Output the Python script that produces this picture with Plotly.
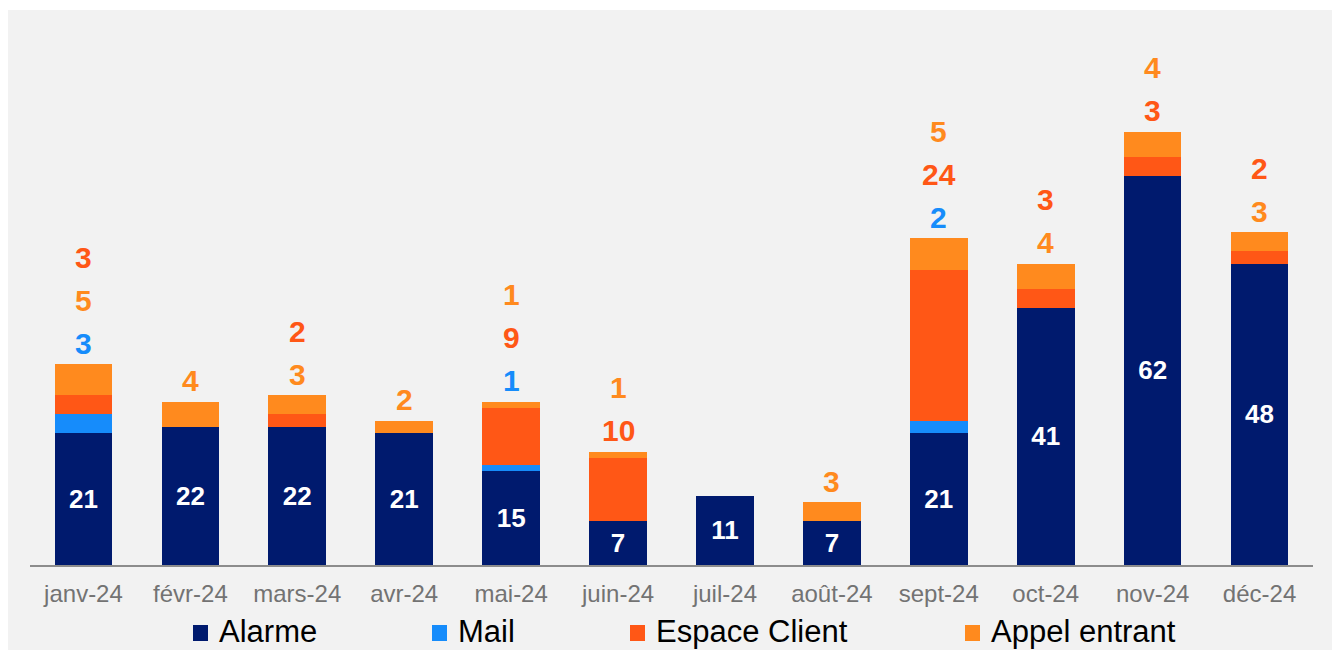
import plotly.graph_objects as go

months = ["janv-24", "févr-24", "mars-24", "avr-24", "mai-24", "juin-24",
          "juil-24", "août-24", "sept-24", "oct-24", "nov-24", "déc-24"]

alarme = [21, 22, 22, 21, 15, 7, 11, 7, 21, 41, 62, 48]
mail = [3, 0, 0, 0, 1, 0, 0, 0, 2, 0, 0, 0]
espace_client = [3, 0, 2, 0, 9, 10, 0, 0, 24, 3, 3, 2]
appel_entrant = [5, 4, 3, 2, 1, 1, 0, 3, 5, 4, 4, 3]

series_names = ["Alarme", "Mail", "Espace Client", "Appel entrant"]
series_values = [alarme, mail, espace_client, appel_entrant]
series_colors = ["#001a6e", "#168cfb", "#ff5716", "#ff8a1e"]

# order (bottom to top) in which the small-series labels are stacked above each bar
label_order = [
    ["Mail", "Appel entrant", "Espace Client"],
    ["Appel entrant"],
    ["Appel entrant", "Espace Client"],
    ["Appel entrant"],
    ["Mail", "Espace Client", "Appel entrant"],
    ["Espace Client", "Appel entrant"],
    [],
    ["Appel entrant"],
    ["Mail", "Espace Client", "Appel entrant"],
    ["Appel entrant", "Espace Client"],
    ["Espace Client", "Appel entrant"],
    ["Appel entrant", "Espace Client"],
]

# ---- layout geometry (pixels; page body adds an 8px offset) ----
OFF = 8
W, H = 1340 - OFF, 650 - OFF
ML, MR, MT, MB = 22, 27, 2, 85
PW, PH = W - ML - MR, H - MT - MB
FONT = "Liberation Sans, Arial, sans-serif"

def px_x(px):  # px in reference-picture coordinates
    return (px - OFF - ML) / PW

def px_y(py):
    return (H - MB - (py - OFF)) / PH

fig = go.Figure()
for name, vals, col in zip(series_names, series_values, series_colors):
    is_main = name == "Alarme"
    fig.add_trace(go.Bar(
        x=months,
        y=[v if v else None for v in vals],
        name=name,
        marker=dict(color=col, line=dict(width=0)),
        text=[str(v) for v in vals] if is_main else None,
        texttemplate="%{text}" if is_main else None,
        textposition="inside" if is_main else "none",
        insidetextanchor="middle",
        textangle=0,
        textfont=dict(color="white", size=26, family=FONT, weight="bold"),
        constraintext="none",
        showlegend=False,
        hoverinfo="skip",
    ))

annotations = []
color_of = dict(zip(series_names, series_colors))
value_of = dict(zip(series_names, series_values))
for i, m in enumerate(months):
    total = sum(v[i] for v in series_values)
    for k, s in enumerate(label_order[i]):
        annotations.append(dict(
            x=m, y=total, xref="x", yref="y",
            text=f"<b>{value_of[s][i]}</b>",
            showarrow=False, yanchor="middle",
            yshift=21 + 43 * k,
            font=dict(size=30, color=color_of[s], family=FONT),
        ))

# custom legend
legend_sq_x = [193, 432, 630, 965]
sq = 15
shapes = [
    # white band at the top
    dict(type="rect", xref="paper", yref="paper", x0=px_x(0), x1=px_x(1400),
         y0=px_y(10), y1=px_y(0), fillcolor="white", line=dict(width=0), layer="below"),
]
for name, col, sx in zip(series_names, series_colors, legend_sq_x):
    shapes.append(dict(type="rect", xref="paper", yref="paper",
                       x0=px_x(sx), x1=px_x(sx + sq), y0=px_y(641), y1=px_y(625),
                       fillcolor=col, line=dict(width=0)))
    annotations.append(dict(
        x=px_x(sx + sq + 9), y=px_y(631), xref="paper", yref="paper",
        text=name, showarrow=False, xanchor="left", yanchor="middle",
        font=dict(size=31, color="#000000", family=FONT),
    ))

fig.update_layout(
    width=W, height=H,
    margin=dict(l=ML, r=MR, t=MT, b=MB, pad=0),
    paper_bgcolor="#f2f2f2", plot_bgcolor="#f2f2f2",
    barmode="stack", bargap=0.46,
    showlegend=False,
    annotations=annotations,
    shapes=shapes,
    xaxis=dict(
        showline=True, linecolor="#8c8c8c", linewidth=1.5,
        showgrid=False, ticks="", ticklabelstandoff=6,
        tickfont=dict(size=24, color="#737373", family=FONT),
    ),
    yaxis=dict(range=[0, PH / 6.28], visible=False, showgrid=False),
    uniformtext=dict(mode=False),
)

fig.write_html("out.html")
